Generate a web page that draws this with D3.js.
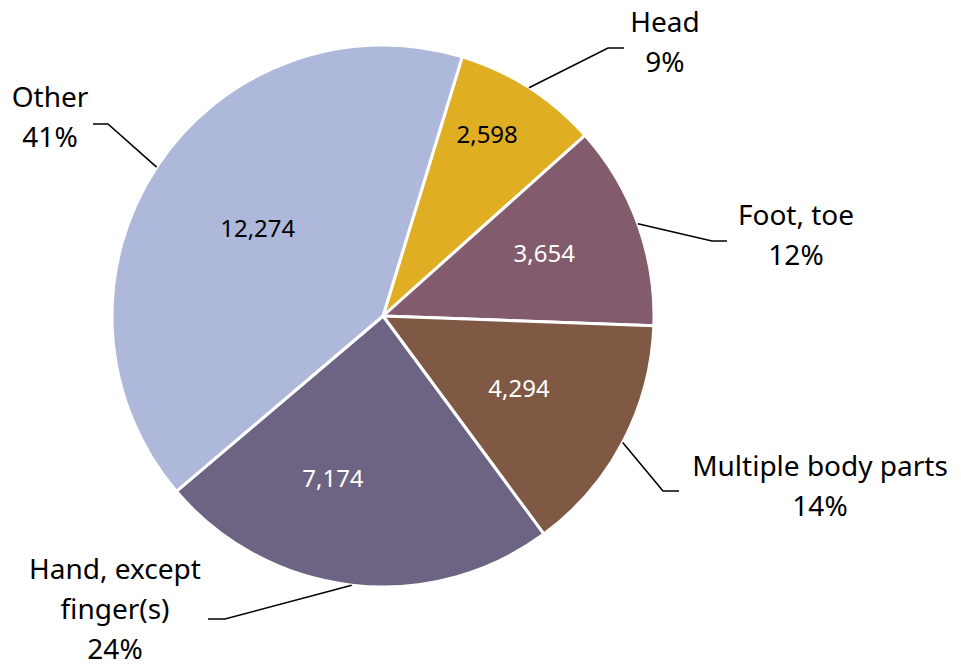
<!DOCTYPE html>
<html>
<head>
<meta charset="utf-8">
<script src="https://cdn.jsdelivr.net/npm/d3@7"></script>
<style>
  body { margin: 0; background: #fff; }
  svg text { font-family: "Noto Sans", "Open Sans", sans-serif; fill: #000; }
</style>
</head>
<body>
<div class="chart"></div>
<script>
// data, clockwise from the top
var categories = ["Head", "Foot, toe", "Multiple body parts", "Hand, except finger(s)", "Other"];
var labelLines = [["Head"], ["Foot, toe"], ["Multiple body parts"], ["Hand, except", "finger(s)"], ["Other"]];
var counts = [2598, 3654, 4294, 7174, 12274];
var percents = ["9%", "12%", "14%", "24%", "41%"];
var colors = ["#e0ae22", "#825b6d", "#7f5944", "#6c6482", "#aeb8da"];
var valueColors = ["#000", "#fff", "#fff", "#fff", "#000"];

// layout (relative to pie center)
var labelX = [282, 413, 437, -268, -333];
var labelY = [-284, -91, 160, 263, -209];
var elbow = [[225, -268], [329, -75], [280, 175], [-158, 303], [-275, -192]];
var lineEnd = [[241, -268], [344, -75], [296, 175], [-175, 303], [-290, -192]];
var valueNudge = [[-2.7, 209], [-1.4, 173], [0.2, 154], [10.5, 170], [1.7, 153]];

var svgWidth = 961;
var svgHeight = 668;
var cx = 383, cy = 316, radius = 271;
var lineHeight = 40;

var svg = d3.select(".chart")
  .append("svg")
  .attr("width", svgWidth)
  .attr("height", svgHeight);

var g = svg.append("g")
  .attr("transform", `translate(${cx}, ${cy})`);

var start = 17 * Math.PI / 180;
var pie = d3.pie()
  .sort(null)
  .startAngle(start)
  .endAngle(start + 2 * Math.PI);

var arcs = pie(counts);

var arc = d3.arc()
  .innerRadius(0)
  .outerRadius(radius);

g.selectAll("path.slice")
  .data(arcs)
  .enter()
  .append("path")
  .attr("class", "slice")
  .attr("d", arc)
  .attr("fill", (d, i) => colors[i])
  .attr("stroke", "#fff")
  .attr("stroke-width", 3)
  .attr("stroke-linejoin", "round");

var fmt = d3.format(",");

// value labels inside slices
g.selectAll("text.value")
  .data(arcs)
  .enter()
  .append("text")
  .attr("class", "value")
  .attr("transform", function(d, i) {
    var mid = (d.startAngle + d.endAngle) / 2 + valueNudge[i][0] * Math.PI / 180;
    var p = d3.pointRadial(mid, valueNudge[i][1]);
    return `translate(${p[0]}, ${p[1]})`;
  })
  .attr("text-anchor", "middle")
  .attr("dy", "0.36em")
  .style("font-size", "24px")
  .style("fill", (d, i) => valueColors[i])
  .text(d => fmt(d.data));

// leader lines
g.selectAll("polyline.leader")
  .data(arcs)
  .enter()
  .append("polyline")
  .attr("class", "leader")
  .attr("points", function(d, i) {
    var mid = (d.startAngle + d.endAngle) / 2;
    var p = d3.pointRadial(mid, radius);
    return [p, elbow[i], lineEnd[i]].map(q => q.join(",")).join(" ");
  })
  .attr("fill", "none")
  .attr("stroke", "#000")
  .attr("stroke-width", 1.6);

// category labels
var labels = g.selectAll("text.cat")
  .data(arcs)
  .enter()
  .append("text")
  .attr("class", "cat")
  .attr("text-anchor", "middle")
  .style("font-size", "28px");

labels.each(function(d, i) {
  var t = d3.select(this);
  var lines = labelLines[i].concat([percents[i]]);
  lines.forEach(function(s, j) {
    t.append("tspan")
      .attr("x", labelX[i])
      .attr("y", labelY[i] + j * lineHeight)
      .text(s);
  });
});
</script>
</body>
</html>
